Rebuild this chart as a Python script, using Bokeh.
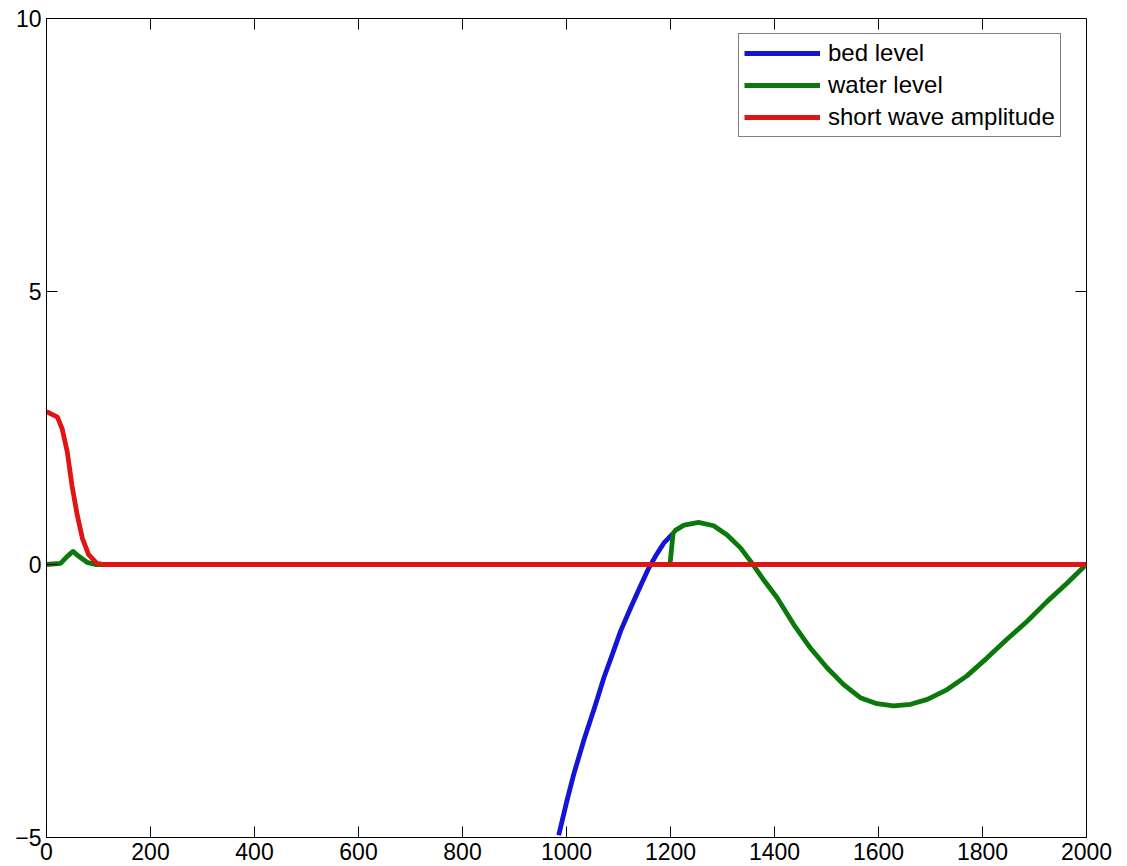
import math
from bokeh.plotting import figure
from bokeh.models import Range1d, FixedTicker, LinearAxis, Legend, LegendItem
from bokeh.embed import file_html
from bokeh.resources import INLINE

# ---- data ----
bed_x = [985, 1001, 1014, 1033, 1056, 1072, 1088, 1104, 1123, 1142, 1158, 1171, 1187, 1205]
bed_y = [-4.96, -4.32, -3.84, -3.23, -2.56, -2.07, -1.65, -1.22, -0.80, -0.40, -0.07,
         0.15, 0.39, 0.57]

water_x = [0, 27, 40, 51, 62, 78, 94, 400, 800, 1199, 1205, 1210, 1226, 1254, 1283, 1309,
           1335, 1357, 1379, 1405, 1437, 1469, 1501, 1533, 1565, 1597, 1629, 1662, 1694,
           1732, 1770, 1809, 1847, 1886, 1924, 1963, 1995, 2000]
water_y = [0.0, 0.02, 0.15, 0.24, 0.15, 0.04, 0.0, 0.0, 0.0, 0.0, 0.57, 0.63, 0.72, 0.77,
           0.71, 0.54, 0.30, 0.02, -0.28, -0.61, -1.10, -1.53, -1.89, -2.20, -2.44, -2.55,
           -2.59, -2.56, -2.47, -2.29, -2.04, -1.71, -1.37, -1.04, -0.68, -0.34, -0.04, 0.0]

wave_x = [0, 2, 21, 30, 40, 49, 59, 69, 81, 97, 110, 1000, 2000]
wave_y = [2.8, 2.79, 2.70, 2.49, 2.06, 1.45, 0.91, 0.48, 0.18, 0.02, 0.0, 0.0, 0.0]

x_ticks = [0, 200, 400, 600, 800, 1000, 1200, 1400, 1600, 1800, 2000]
y_ticks = [-5, 0, 5, 10]
labels = ["bed level", "water level", "short wave amplitude"]

FONT = "Liberation Sans"
X0, X1, Y0, Y1 = 0, 2000, -5, 10

p = figure(width=1127, height=866, output_backend="svg", toolbar_location=None,
           x_range=Range1d(X0, X1), y_range=Range1d(Y0, Y1),
           min_border_left=46, min_border_right=41, min_border_top=18,
           min_border_bottom=29, x_axis_location=None, y_axis_location=None)
p.xgrid.visible = False
p.ygrid.visible = False
p.outline_line_color = "black"
p.outline_line_width = 1
p.background_fill_color = "white"
p.border_fill_color = "white"


def make_axis(ticks):
    ax = LinearAxis(ticker=FixedTicker(ticks=ticks))
    ax.major_tick_in = 11
    ax.major_tick_out = 0
    ax.minor_tick_in = 0
    ax.minor_tick_out = 0
    ax.axis_line_color = "black"
    ax.major_tick_line_color = "black"
    ax.major_label_text_font = FONT
    ax.major_label_text_font_size = "23px"
    ax.major_label_text_color = "black"
    ax.major_label_standoff = 5
    return ax


p.add_layout(make_axis(x_ticks), "below")
p.add_layout(make_axis(y_ticks), "left")

# inward ticks on top and right edges (MATLAB box style)
p.ray(x=x_ticks, y=[Y1] * len(x_ticks), length=11, angle=-math.pi / 2,
      length_units="screen", line_color="black", line_width=1)
p.ray(x=[X1] * len(y_ticks), y=y_ticks, length=11, angle=math.pi,
      length_units="screen", line_color="black", line_width=1)

r_bed = p.line(bed_x, bed_y, line_color="#1414d6", line_width=4.8, line_join="round")
r_water = p.line(water_x, water_y, line_color="#0a780a", line_width=4.8, line_join="round")
r_wave = p.line(wave_x, wave_y, line_color="#e01414", line_width=4.8, line_join="round")

legend = Legend(items=[LegendItem(label=labels[0], renderers=[r_bed]),
                       LegendItem(label=labels[1], renderers=[r_water]),
                       LegendItem(label=labels[2], renderers=[r_wave])],
                location=(692, 700))
legend.label_text_font = FONT
legend.label_text_font_size = "24px"
legend.label_text_color = "black"
legend.glyph_width = 76
legend.glyph_height = 24
legend.label_height = 24
legend.spacing = 4
legend.padding = 5
legend.label_standoff = 8
legend.border_line_color = "black"
legend.border_line_width = 1
legend.background_fill_color = "white"
legend.background_fill_alpha = 1
legend.margin = 0
p.add_layout(legend, "center")

open("out.html", "w").write(file_html(p, INLINE))
